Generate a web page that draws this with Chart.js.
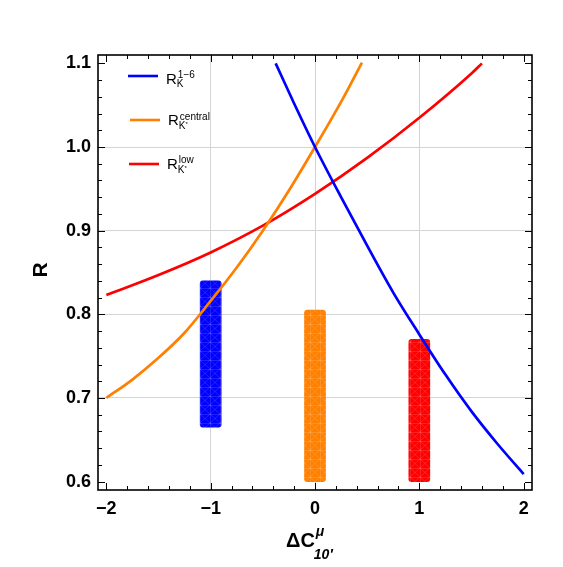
<!DOCTYPE html>
<html>
<head>
<meta charset="utf-8">
<script src="https://cdn.jsdelivr.net/npm/chart.js@4"></script>
<style>
  body { margin: 0; background: #fff; }
  #wrap { position: relative; width: 563px; height: 567px; }
  .xlab { position: absolute; top: 499px; font: bold 18px "Liberation Sans", Arial, sans-serif; line-height: 18px; color: #000; transform: translateX(-50%); white-space: nowrap; }
</style>
</head>
<body>
<div id="wrap"><canvas id="rChart" width="563" height="567"></canvas></div>
<script>
// ---- data ----
const xTicks = [-2, -1, 0, 1, 2];
const xTickLabels = ['\u22122', '\u22121', '0', '1', '2'];
const yTicks = [0.6, 0.7, 0.8, 0.9, 1.0, 1.1];

// R_K^{1-6}
const blueX = [-0.377, -0.2, 0, 0.25, 0.5, 0.75, 1, 1.25, 1.5, 1.75, 2];
const blueR = [1.100, 1.052, 1.000, 0.940, 0.882, 0.826, 0.776, 0.728, 0.684, 0.645, 0.609];

// R_K*^{central}
const orangeX = [-2, -1.75, -1.5, -1.25, -1, -0.75, -0.5, -0.25, 0, 0.25, 0.45];
const orangeR = [0.700, 0.722, 0.748, 0.778, 0.816, 0.856, 0.900, 0.948, 1.000, 1.054, 1.101];

// R_K*^{low}
const redX = [-2, -1.5, -1, -0.5, 0, 0.5, 1, 1.5, 1.6];
const redR = [0.823, 0.847, 0.874, 0.906, 0.944, 0.987, 1.035, 1.088, 1.100];

// measured ranges (blue, orange, red)
const barX = [-1, 0, 1];
const barLow = [0.665, 0.600, 0.600];
const barHigh = [0.840, 0.805, 0.770];

const BLUE = 'rgb(0,0,255)';
const ORANGE = 'rgb(255,128,0)';
const RED = 'rgb(255,0,0)';
const FONT = '"Liberation Sans", Arial, sans-serif';

// faint mesh look inside the bars
function meshPattern(color) {
    const c = document.createElement('canvas');
    c.width = 10; c.height = 9;
    const g = c.getContext('2d');
    g.fillStyle = color;
    g.fillRect(0, 0, 10, 9);
    g.strokeStyle = 'rgba(255,255,255,0.13)';
    g.lineWidth = 1;
    g.beginPath();
    g.moveTo(0, 0.5); g.lineTo(10, 0.5);
    g.moveTo(0.5, 0); g.lineTo(0.5, 9);
    g.moveTo(0, 0); g.lineTo(10, 9);
    g.moveTo(10, 0); g.lineTo(0, 9);
    g.stroke();
    return g.createPattern(c, 'repeat');
}

const pts = (xs, ys) => xs.map((x, i) => ({ x: x, y: ys[i] }));

// inward ticks on all four sides, frame, legend, titles
const framePlugin = {
    id: 'frame',
    afterDatasetsDraw(chart) {
        const ctx = chart.ctx, a = chart.chartArea;
        const xs = chart.scales.x, ys = chart.scales.y;
        ctx.save();
        ctx.strokeStyle = '#000';
        ctx.lineWidth = 1;
        ctx.beginPath();
        // x ticks: major every 1, minor every 0.2
        for (let k = -10; k <= 10; k++) {
            const len = (k % 5 === 0) ? 7 : 4;
            const px = Math.round(xs.getPixelForValue(k / 5)) + 0.5;
            ctx.moveTo(px, a.bottom); ctx.lineTo(px, a.bottom - len);
            ctx.moveTo(px, a.top); ctx.lineTo(px, a.top + len);
        }
        // y ticks: major every 0.1, minor every 0.02
        for (let k = 30; k <= 55; k++) {
            const len = (k % 5 === 0) ? 7 : 4;
            const py = Math.round(ys.getPixelForValue(k / 50)) + 0.5;
            ctx.moveTo(a.left, py); ctx.lineTo(a.left + len, py);
            ctx.moveTo(a.right, py); ctx.lineTo(a.right - len, py);
        }
        ctx.stroke();
        ctx.lineWidth = 1.6;
        ctx.strokeRect(a.left, a.top, a.right - a.left, a.bottom - a.top);
        ctx.restore();
    },
    afterDraw(chart) {
        const ctx = chart.ctx;
        ctx.save();
        ctx.fillStyle = '#000';
        ctx.textBaseline = 'alphabetic';
        ctx.textAlign = 'left';

        // legend
        const rows = [
            { color: BLUE, x0: 128, x1: 158, y: 76, rx: 166, base: 84, sup: '1\u22126', supBase: 78, subBase: 87, star: false },
            { color: ORANGE, x0: 130, x1: 160, y: 120, rx: 168, base: 125, sup: 'central', supBase: 120, subBase: 129, star: true },
            { color: RED, x0: 129, x1: 159, y: 164, rx: 167, base: 169, sup: 'low', supBase: 163, subBase: 173, star: true }
        ];
        rows.forEach(r => {
            ctx.strokeStyle = r.color;
            ctx.lineWidth = 2.6;
            ctx.beginPath(); ctx.moveTo(r.x0, r.y); ctx.lineTo(r.x1, r.y); ctx.stroke();
            ctx.font = '15px ' + FONT;
            ctx.fillText('R', r.rx, r.base);
            const w = ctx.measureText('R').width;
            ctx.font = '10px ' + FONT;
            ctx.fillText(r.sup, r.rx + w + 1, r.supBase);
            ctx.fillText('K', r.rx + w, r.subBase);
            if (r.star) {
                const kw = ctx.measureText('K').width;
                ctx.font = '6px ' + FONT;
                ctx.fillText('*', r.rx + w + kw, r.subBase - 3);
            }
        });

        // x axis title: ΔC^μ_{10'}
        ctx.font = 'bold 20px ' + FONT;
        ctx.fillText('\u0394C', 286, 547);
        const cw = ctx.measureText('\u0394C').width;
        ctx.font = 'italic bold 14px ' + FONT;
        ctx.fillText('\u03bc', 286 + cw + 1, 536);
        ctx.fillText('10\u2032', 286 + cw - 1, 559);

        // y axis title
        ctx.translate(47, 270);
        ctx.rotate(-Math.PI / 2);
        ctx.textAlign = 'center';
        ctx.font = 'bold 21px ' + FONT;
        ctx.fillText('R', 0, 0);
        ctx.restore();
    }
};

const tickFont = { family: FONT, size: 18, weight: 'bold' };

const chart = new Chart(document.getElementById('rChart'), {
    type: 'line',
    data: {
        datasets: [
            { label: 'blue', data: pts(blueX, blueR), borderColor: BLUE, borderWidth: 2.7, pointRadius: 0, cubicInterpolationMode: 'monotone', order: 1 },
            { label: 'orange', data: pts(orangeX, orangeR), borderColor: ORANGE, borderWidth: 2.7, pointRadius: 0, cubicInterpolationMode: 'monotone', order: 1 },
            { label: 'red', data: pts(redX, redR), borderColor: RED, borderWidth: 2.7, pointRadius: 0, cubicInterpolationMode: 'monotone', order: 1 },
            {
                type: 'bar', label: 'ranges',
                data: barX.map((x, i) => ({ x: x, y: [barLow[i], barHigh[i]] })),
                backgroundColor: [meshPattern(BLUE), meshPattern(ORANGE), meshPattern(RED)],
                barThickness: 21, borderRadius: 3, borderSkipped: false, borderWidth: 0,
                order: 10
            }
        ]
    },
    options: {
        responsive: false,
        animation: false,
        layout: { padding: { top: 55, right: 31, left: 0, bottom: 0 } },
        plugins: { legend: { display: false }, tooltip: { enabled: false } },
        scales: {
            x: {
                type: 'linear', min: -2.08, max: 2.08, offset: false,
                afterBuildTicks: s => { s.ticks = xTicks.map(v => ({ value: v })); },
                afterFit: s => { s.height = 77; },
                ticks: { display: false },
                grid: { offset: false, drawTicks: false, color: c => (Math.abs(c.tick.value) === 2 ? 'rgba(0,0,0,0)' : '#d4d4d4') },
                border: { display: false }
            },
            y: {
                type: 'linear', min: 0.59, max: 1.11,
                afterBuildTicks: s => { s.ticks = yTicks.map(v => ({ value: v })); },
                afterFit: s => { s.width = 98; },
                ticks: { font: tickFont, color: '#000', padding: 7, autoSkip: false, callback: v => v.toFixed(1) },
                grid: { drawTicks: false, color: c => ((c.tick.value < 0.65 || c.tick.value > 1.05) ? 'rgba(0,0,0,0)' : '#d4d4d4') },
                border: { display: false }
            }
        }
    },
    plugins: [framePlugin]
});

// x tick labels as page text, placed with the chart's own x scale
const wrap = document.getElementById('wrap');
xTicks.forEach((v, i) => {
    const el = document.createElement('span');
    el.className = 'xlab';
    el.textContent = xTickLabels[i];
    el.style.left = chart.scales.x.getPixelForValue(v) + 'px';
    wrap.appendChild(el);
});
</script>
</body>
</html>
